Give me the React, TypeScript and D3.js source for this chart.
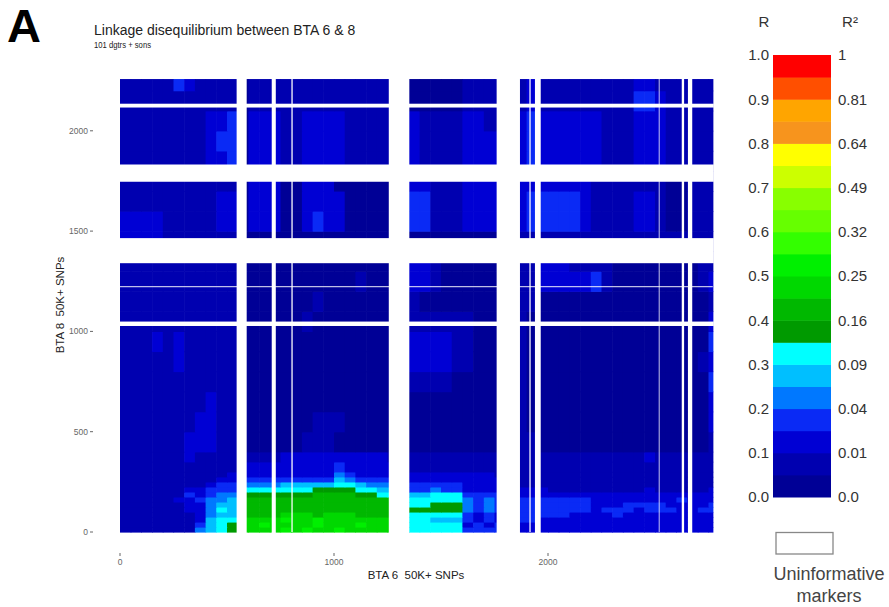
import React from 'react';
import * as d3 from 'd3';

// ---- data ----
const xTicks = [0, 1000, 2000];
const yTicks = [0, 500, 1000, 1500, 2000];
const colWidth = 50; // SNPs per heatmap column on BTA 6
const xMax = 2770;
const yMax = 2258;
// row boundaries (SNP index on BTA 8)
const yBreaks = [0, 25, 50, 75, 100, 125, 150, 175, 200, 225, 250, 275, 300, 350, 400, 500, 600, 700, 800, 900,
  1000, 1100, 1200, 1300, 1400, 1500, 1600, 1700, 1800, 1900, 2000, 2100, 2200, 2260];
// LD band index (floor(R / 0.05)), rows bottom->top, each row split in column groups
const ldRows: string[][] = [
  ['11111114567', '9999a9a99a99999', '0', '666663333', '0', '2222222222222222222'],
  ['11111113567', '99a9999a999a999', '0', '666662323', '0', '2222222222222222222'],
  ['11111112566', '9999a99a9999999', '0', '665553232', '0', '3322222222222222222'],
  ['11111112455', '888899989998888', '0', '666663232', '0', '3333322223222222222'],
  ['11111122465', '888888888888888', '0', '777774343', '0', '3333333233323332233'],
  ['11111122455', '888888888888888', '0', '667774343', '0', '3333333222333322223'],
  ['11111223445', '888888888888888', '0', '666664343', '0', '3333333222222223222'],
  ['11111132344', '777777788887766', '0', '556663333', '0', '2222222222222222222'],
  ['11111122333', '666666677776655', '0', '334332222', '0', '2221111111112111112'],
  ['11111111233', '444455555665444', '0', '333332222', '0', '1111111111111111111'],
  ['11111111122', '333333333543333', '0', '222222222', '0', '1111111111111111111'],
  ['11111111112', '222222222432222', '0', '222222221', '0', '1111111111111111111'],
  ['11111111111', '222222222322222', '0', '111111111', '0', '1111111111111111111'],
  ['11111121111', '111122222222221', '0', '111111111', '0', '1111111111112111111'],
  ['11111122211', '000000111000000', '0', '000000000', '0', '1100000000000000001'],
  ['11111112211', '000000011100000', '0', '000000000', '0', '1000000000000000002'],
  ['11111111211', '000000000000000', '0', '000000000', '0', '1000000000000000002'],
  ['11111111111', '000000000000000', '0', '111100000', '0', '1000000000000000003'],
  ['11111211111', '000000000000000', '0', '222211000', '0', '1000000000000000012'],
  ['11121211111', '000000000000000', '0', '222211000', '0', '1000000000000000003'],
  ['11111111111', '000000100000000', '0', '111111000', '0', '1000000000000000002'],
  ['11111111111', '000000010000000', '0', '100000000', '0', '1100000000000000001'],
  ['11111111111', '000000000001000', '0', '221000000', '0', '1122222310000000012'],
  ['11111111111', '000000000000000', '0', '221000000', '0', '1122211110000000011'],
  ['22221111111', '000000000000000', '0', '000000000', '0', '1111111111111111111'],
  ['22221111122', '022200232200000', '0', '331112222', '0', '2333332111122100111'],
  ['11111111122', '022200222200000', '0', '331112222', '0', '2333332111122100111'],
  ['11111111111', '022200222000000', '0', '221112222', '0', '2222222111111100111'],
  ['11111111223', '022211222211111', '0', '211112222', '0', '2322222211122211111'],
  ['11111111233', '022211222211111', '0', '211112222', '0', '2322222211122211111'],
  ['11111111223', '022211222211111', '0', '211112211', '0', '2322222211122211111'],
  ['11111111111', '011111111111111', '0', '000001111', '0', '1211111111133211111'],
  ['11111321111', '011111111111111', '0', '000001111', '0', '1211111111122111111'],
];
// uninformative marker runs (SNP index ranges)
const xGaps: [number, number][] = [[545, 592], [709, 728], [1256, 1352], [1760, 1869], [1939, 1966], [2625, 2636], [2654, 2674]];
const yGaps: [number, number][] = [[1027, 1049], [1340, 1465], [1746, 1832], [2116, 2135]];
const xLines = [804, 1916, 2520];
const yLines = [1223];

const bandColors = ['#000096', '#0000b0', '#0000d4', '#0a2af5', '#0078ff', '#00bfff', '#00ffff', '#009a00', '#00b800', '#00d800',
  '#00f000', '#33ff00', '#66ff00', '#88ff00', '#ccff00', '#ffff00', '#f7941d', '#ffa500', '#ff4f00', '#ff0000'];
const rLabels = ['0.0', '0.1', '0.2', '0.3', '0.4', '0.5', '0.6', '0.7', '0.8', '0.9', '1.0'];
const r2Labels = ['0.0', '0.01', '0.04', '0.09', '0.16', '0.25', '0.32', '0.49', '0.64', '0.81', '1'];

const FONT = "'Liberation Sans', Arial, sans-serif";

export default function App() {
  const x = d3.scaleLinear().domain([0, 2000]).range([120, 548]);
  const y = d3.scaleLinear().domain([0, 2000]).range([532, 130.8]);
  const rScale = d3.scaleLinear().domain([0, 1]).range([497, 55]);

  const cells: JSX.Element[] = [];
  ldRows.forEach((segs, r) => {
    const row = segs.join('');
    const y0 = yBreaks[r];
    const y1 = Math.min(yBreaks[r + 1], yMax);
    for (let c = 0; c < row.length; c++) {
      const x0 = c * colWidth;
      if (x0 >= xMax) break;
      const x1 = Math.min((c + 1) * colWidth, xMax);
      const lvl = parseInt(row[c], 20);
      const px0 = x(x0), px1 = x(x1);
      const py0 = y(y1), py1 = y(y0);
      cells.push(
        <rect key={`${r}-${c}`} x={px0} y={py0} width={px1 - px0 + 0.6} height={py1 - py0 + 0.6}
          fill={bandColors[lvl] || bandColors[0]} />
      );
    }
  });

  const top = y(yMax), bottom = y(0), left = x(0), right = x(xMax);

  return (
    <svg width={889} height={607} style={{ position: 'absolute', left: 0, top: 0, background: '#fff' }}
      fontFamily={FONT}>
      <rect x={0} y={0} width={889} height={607} fill="#fff" />
      <text x={7} y={42} fontSize={47} fontWeight="bold" fill="#000">A</text>
      <text x={94} y={35} fontSize={14} fill="#222">Linkage disequilibrium between BTA 6 &amp; 8</text>
      <text x={94} y={48} fontSize={9} fill="#222" textLength={57} lengthAdjust="spacingAndGlyphs">101 dgtrs + sons</text>

      <g>{cells}</g>
      {/* uninformative markers */}
      {xGaps.map(([a, b], i) => (
        <rect key={`xg${i}`} x={x(a)} y={top - 1} width={x(b) - x(a)} height={bottom - top + 2} fill="#fff" />
      ))}
      {yGaps.map(([a, b], i) => (
        <rect key={`yg${i}`} x={left - 1} y={y(b)} width={right - left + 2} height={y(a) - y(b)} fill="#fff" />
      ))}
      {xLines.map((v, i) => (
        <line key={`xl${i}`} x1={x(v)} x2={x(v)} y1={top} y2={bottom} stroke="#fff" strokeOpacity={i === 2 ? 0.55 : 0.9} strokeWidth={1.4} />
      ))}
      {yLines.map((v, i) => (
        <line key={`yl${i}`} x1={left} x2={right} y1={y(v)} y2={y(v)} stroke="#fff" strokeOpacity={0.75} strokeWidth={1.2} />
      ))}

      {/* axes */}
      {yTicks.map((t) => (
        <g key={`yt${t}`}>
          <line x1={90} x2={93} y1={y(t)} y2={y(t)} stroke="#666" strokeWidth={1} />
          <text x={88} y={y(t)} dy="0.35em" textAnchor="end" fontSize={8.5} fill="#666">{t}</text>
        </g>
      ))}
      {xTicks.map((t) => (
        <g key={`xt${t}`}>
          <line x1={x(t)} x2={x(t)} y1={553} y2={556} stroke="#666" strokeWidth={1} />
          <text x={x(t)} y={565} textAnchor="middle" fontSize={8.5} fill="#666">{t}</text>
        </g>
      ))}
      <text x={416} y={579} textAnchor="middle" fontSize={11.5} fill="#222" style={{ whiteSpace: 'pre' }}>BTA 6  50K+ SNPs</text>
      <text transform="translate(64,305) rotate(-90)" textAnchor="middle" fontSize={11.5} fill="#222" style={{ whiteSpace: 'pre' }}>BTA 8  50K+ SNPs</text>

      {/* colour key */}
      {bandColors.map((col, i) => (
        <rect key={`cb${i}`} x={773} y={rScale((i + 1) * 0.05)} width={58} height={rScale(i * 0.05) - rScale((i + 1) * 0.05) + 0.5} fill={col} />
      ))}
      {rLabels.map((l, i) => (
        <text key={`rl${i}`} x={769} y={rScale(i / 10)} dy="0.36em" textAnchor="end" fontSize={15} fill="#333">{l}</text>
      ))}
      {r2Labels.map((l, i) => (
        <text key={`r2l${i}`} x={838} y={rScale(i / 10)} dy="0.36em" textAnchor="start" fontSize={15} fill="#333">{l}</text>
      ))}
      <text x={764} y={27} textAnchor="middle" fontSize={15} fill="#333">R</text>
      <text x={850} y={27} textAnchor="middle" fontSize={15} fill="#333">R²</text>
      <rect x={776} y={532.5} width={57} height={21.5} fill="#fff" stroke="#888" strokeWidth={1.3} />
      <text x={829} y={580} textAnchor="middle" fontSize={18} fill="#444">Uninformative</text>
      <text x={829} y={602} textAnchor="middle" fontSize={18} fill="#444">markers</text>
    </svg>
  );
}
